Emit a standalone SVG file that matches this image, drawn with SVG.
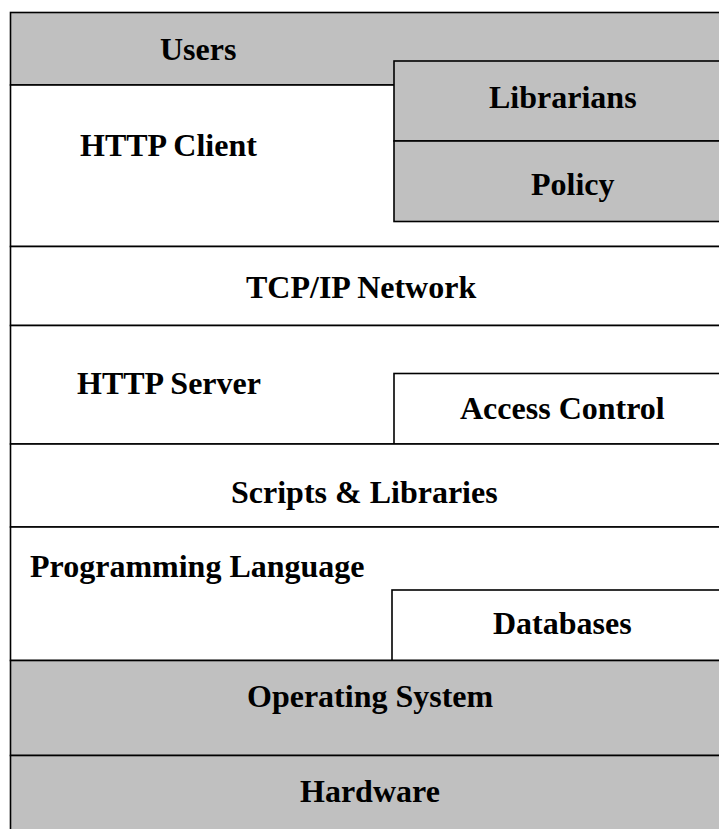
<svg xmlns="http://www.w3.org/2000/svg" width="719" height="829" viewBox="0 0 719 829">
  <style>
    .band { stroke: #000; stroke-width: 1.6; }
    .grey { fill: #c0c0c0; }
    .white { fill: #fff; }
    .lbl { font-family: "Liberation Serif", "Times New Roman", serif; font-weight: bold; font-size: 32px; fill: #000; }
  </style>
  <rect x="0" y="0" width="719" height="829" fill="#fff"/>

  <!-- Stack layers, top to bottom; right side runs past the canvas edge -->
  <g id="users">
    <rect class="band grey" x="10.5" y="12.5" width="712" height="72.5"/>
    <text class="lbl" x="160" y="60">Users</text>
  </g>
  <g id="http-client">
    <rect class="band white" x="10.5" y="85" width="712" height="161.5"/>
    <text class="lbl" x="80" y="156">HTTP Client</text>
  </g>
  <g id="librarians">
    <rect class="band grey" x="394" y="61" width="328" height="80"/>
    <text class="lbl" x="489" y="108">Librarians</text>
  </g>
  <g id="policy">
    <rect class="band grey" x="394" y="141" width="328" height="80.5"/>
    <text class="lbl" x="531" y="195">Policy</text>
  </g>
  <g id="tcp-ip-network">
    <rect class="band white" x="10.5" y="246.5" width="712" height="79"/>
    <text class="lbl" x="246" y="298">TCP/IP Network</text>
  </g>
  <g id="http-server">
    <rect class="band white" x="10.5" y="325.5" width="712" height="118.5"/>
    <text class="lbl" x="77" y="394">HTTP Server</text>
  </g>
  <g id="access-control">
    <rect class="band white" x="394" y="373.5" width="328" height="70.5"/>
    <text class="lbl" x="460" y="419">Access Control</text>
  </g>
  <g id="scripts-libraries">
    <rect class="band white" x="10.5" y="444" width="712" height="83"/>
    <text class="lbl" x="231" y="503">Scripts &amp; Libraries</text>
  </g>
  <g id="programming-language">
    <rect class="band white" x="10.5" y="527" width="712" height="133.5"/>
    <text class="lbl" x="30" y="577">Programming Language</text>
  </g>
  <g id="databases">
    <rect class="band white" x="392" y="590" width="330" height="70.5"/>
    <text class="lbl" x="493" y="634">Databases</text>
  </g>
  <g id="operating-system">
    <rect class="band grey" x="10.5" y="660.5" width="712" height="95"/>
    <text class="lbl" x="247" y="707">Operating System</text>
  </g>
  <g id="hardware">
    <rect class="band grey" x="10.5" y="755.5" width="712" height="80"/>
    <text class="lbl" x="300" y="802">Hardware</text>
  </g>
</svg>
